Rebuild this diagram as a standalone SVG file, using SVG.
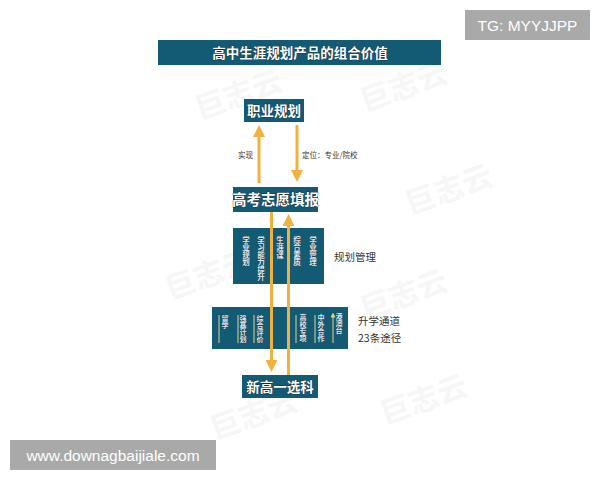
<svg xmlns="http://www.w3.org/2000/svg" width="600" height="480" viewBox="0 0 600 480">
<style>
.cjk{font-family:"Noto Sans CJK SC","Noto Sans",sans-serif}
.box{fill:#135a74}
.bt{fill:#ffffff;stroke:#1a1a1a;stroke-width:0.6px;paint-order:stroke;font-weight:bold;text-anchor:middle}
.vt{fill:#dce8ee;stroke:#333;stroke-width:0.4px;paint-order:stroke;font-size:7.5px;font-weight:bold;text-anchor:middle}
.vs{font-size:7px}
.lbl{fill:#333;font-size:10.5px}
.sm{fill:#333;font-size:7.5px}
.ar{stroke:#f0b13f;stroke-width:3;fill:none}
.thin{stroke:#e8d38a;stroke-width:1;fill:none}
.wm{fill:#000;opacity:0.03;font-size:30px;font-weight:bold}
.tag{fill:#a9a9a9}
.tagt{fill:#fff;font-family:"Liberation Sans",Arial,sans-serif;font-size:15.5px}
</style>
<defs>
<marker id="ah" markerWidth="4" markerHeight="4" refX="2" refY="2" orient="auto" markerUnits="strokeWidth">
<path d="M0,0 L4,2 L0,4 z" fill="#f0b13f"/>
</marker>
<marker id="sh" markerWidth="5" markerHeight="5" refX="2.5" refY="2.5" orient="auto" markerUnits="strokeWidth">
<path d="M0,0 L5,2.5 L0,5 z" fill="#e8d38a"/>
</marker>
</defs>
<rect width="600" height="480" fill="#ffffff"/>
<g id="watermarks" class="cjk">
<text class="wm" transform="translate(200,120) rotate(-20)">巨志云</text>
<text class="wm" transform="translate(365,112) rotate(-20)">巨志云</text>
<text class="wm" transform="translate(410,215) rotate(-20)">巨志云</text>
<text class="wm" transform="translate(170,300) rotate(-20)">巨志云</text>
<text class="wm" transform="translate(365,320) rotate(-20)">巨志云</text>
<text class="wm" transform="translate(215,440) rotate(-20)">巨志云</text>
<text class="wm" transform="translate(385,425) rotate(-20)">巨志云</text>
</g>
<g id="title">
<rect x="158" y="40" width="283" height="25" class="box"/>
<text x="300" y="57.5" class="cjk bt" font-size="13.5">高中生涯规划产品的组合价值</text>
</g>
<g id="career">
<rect x="244" y="99" width="60" height="23" class="box"/>
<text x="274" y="115.5" class="cjk bt" font-size="13.5">职业规划</text>
</g>
<g id="gaokao">
<rect x="233" y="187" width="85" height="25" class="box"/>
<text x="275.5" y="205" class="cjk bt" font-size="14.5">高考志愿填报</text>
</g>
<g id="planning">
<rect x="233" y="228" width="91" height="56" class="box"/>
<text class="cjk vt" x="246 246 246 246" y="242.5 250 257.5 265">学业规划</text>
<text class="cjk vt" x="261 261 261 261 261 261" y="242.5 250 257.5 265 272.5 280">学习能力提升</text>
<text class="cjk vt" x="280 280 280" y="242.5 250 257.5">生涯课</text>
<text class="cjk vt" x="297 297 297 297" y="242.5 250 257.5 265">综合素质</text>
<text class="cjk vt" x="313 313 313 313" y="242.5 250 257.5 265">学业管理</text>
</g>
<g id="channels">
<rect x="212" y="307" width="136" height="42" class="box"/>
<path class="thin" marker-end="url(#sh)" d="M219,343 V315 M238,343 V315 M254,343 V315 M296,343 V315 M315,343 V315 M333,343 V315"/>
<text class="cjk vt vs" x="225 225" y="321 328">留学</text>
<text class="cjk vt vs" x="243 243 243 243" y="321 328 335 342">强基计划</text>
<text class="cjk vt vs" x="260 260 260 260" y="321 328 335 342">综合评价</text>
<text class="cjk vt vs" x="303 303 303 303" y="320 327 334 341">高校专项</text>
<text class="cjk vt vs" x="321 321 321 321" y="320 327 334 341">中外合作</text>
<text class="cjk vt vs" x="339 339 339" y="319 326 333">港澳台</text>
</g>
<g id="xuanke">
<rect x="242" y="375" width="76" height="23" class="box"/>
<text x="280" y="391.5" class="cjk bt" font-size="13.5">新高一选科</text>
</g>
<g id="connectors">
<line class="ar" x1="259" y1="183" x2="259" y2="131" marker-end="url(#ah)"/>
<line class="ar" x1="297" y1="125" x2="297" y2="176" marker-end="url(#ah)"/>
<line class="ar" x1="271.5" y1="212" x2="271.5" y2="366" marker-end="url(#ah)"/>
<line class="ar" x1="288.5" y1="375" x2="288.5" y2="220" marker-end="url(#ah)"/>
</g>
<g id="labels" class="cjk">
<text x="238" y="158" class="sm">实现</text>
<text x="302" y="158" class="sm">定位：专业/院校</text>
<text x="334" y="261" class="lbl">规划管理</text>
<text x="358" y="325" class="lbl">升学通道</text>
<text x="358" y="342" class="lbl">23条途径</text>
</g>
<g id="tags">
<rect x="465" y="10" width="125" height="30" class="tag"/>
<text x="527.5" y="31" class="tagt" text-anchor="middle">TG: MYYJJPP</text>
<rect x="10" y="440" width="206" height="30" class="tag"/>
<text x="113" y="461" class="tagt" text-anchor="middle">www.downagbaijiale.com</text>
</g>
</svg>
